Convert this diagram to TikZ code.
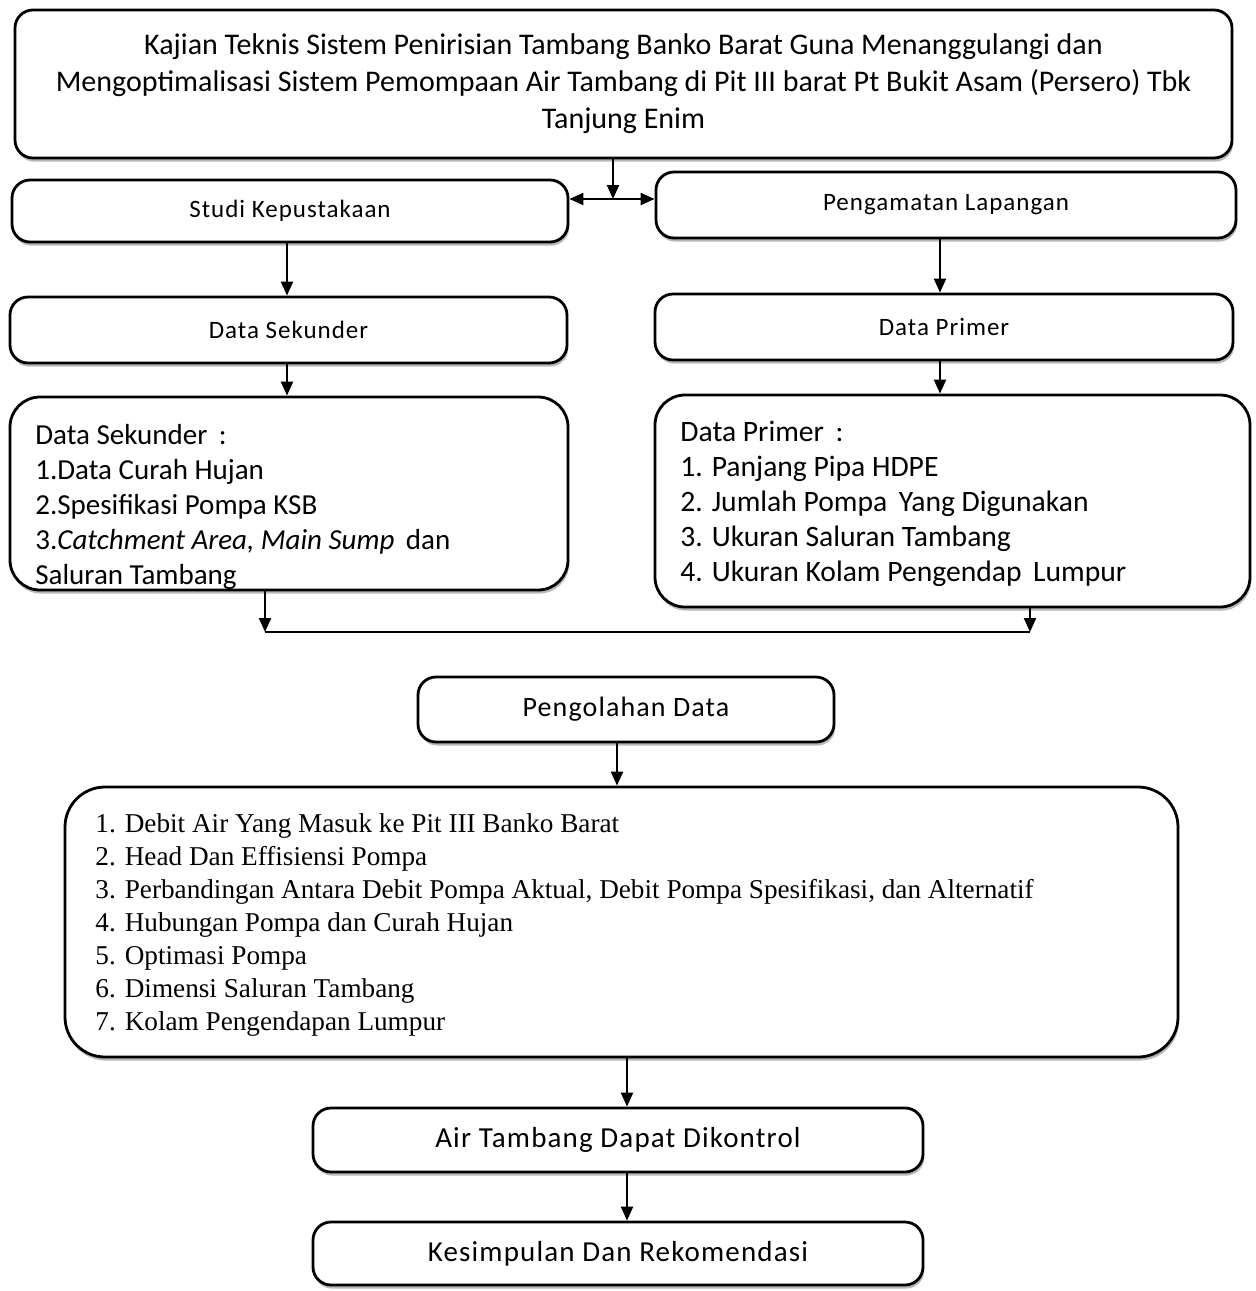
\documentclass[tikz,border=0pt]{standalone}
\usepackage{fontspec}
\setmainfont{Carlito}
\newfontfamily\serifl{Liberation Serif}
\newfontfamily\spaced[LetterSpace=4]{Carlito}
\usetikzlibrary{arrows.meta,shadows}
\begin{document}
\begin{tikzpicture}[x=0.5pt,y=-0.5pt,
  box/.style={draw=black,line width=1.4pt,rounded corners=9pt,fill=white,
     drop shadow={shadow xshift=0.6pt,shadow yshift=-1.8pt,fill=black!55},
     inner sep=0pt,align=center},
  lbox/.style={box,rounded corners=15pt},
  ttl/.style={font=\spaced\fontsize{12.5}{15}\selectfont},
  arr/.style={line width=1.1pt,-{Triangle[length=7pt,width=6pt]}},
  arrb/.style={line width=1.1pt,{Triangle[length=7pt,width=6pt]}-{Triangle[length=7pt,width=6pt]}},
  ln/.style={line width=1.1pt},
  lst/.style={anchor=north west,align=left,inner sep=0pt}]
\useasboundingbox (0,0) rectangle (1255,1291);
\fill[white] (0,0) rectangle (1255,1291);

% boxes
\node[box,minimum width=608.5pt,minimum height=74pt,font=\fontsize{15}{18.5}\selectfont] (top) at (623.5,84)
 {Kajian Teknis Sistem Penirisian Tambang Banko Barat Guna Menanggulangi dan\\
  Mengoptimalisasi Sistem Pemompaan Air Tambang di Pit III barat Pt Bukit Asam (Persero) Tbk\\
  Tanjung Enim};
\node[box,ttl,minimum width=278pt,minimum height=31pt] (studi) at (290,211) {Studi Kepustakaan};
\node[box,ttl,minimum width=290pt,minimum height=33pt] (peng) at (946,205) {Pengamatan Lapangan};
\node[box,ttl,minimum width=278.5pt,minimum height=33pt] (dsek) at (288.5,330) {Data Sekunder};
\node[box,ttl,minimum width=289pt,minimum height=33pt] (dprim) at (944,327) {Data Primer};
\node[lbox,minimum width=279pt,minimum height=96.5pt] (listl) at (289,493.5) {};
\node[lbox,minimum width=297.5pt,minimum height=106pt] (listr) at (952.5,501) {};
\node[box,minimum width=208pt,minimum height=32.5pt,font=\spaced\fontsize{14}{16}\selectfont] (olah) at (626,709.5) {Pengolahan Data};
\node[box,minimum width=305pt,minimum height=135pt,rounded corners=20pt,minimum width=556.5pt] (big) at (621.5,922) {};
\node[box,minimum width=305pt,minimum height=32pt,font=\spaced\fontsize{14.5}{16}\selectfont] (air) at (618,1140) {Air Tambang Dapat Dikontrol};
\node[box,minimum width=305pt,minimum height=31.5pt,font=\spaced\fontsize{14.5}{16}\selectfont] (kes) at (618,1253.5) {Kesimpulan Dan Rekomendasi};

% list texts
\node[lst,font=\fontsize{14.5}{17.5}\selectfont] (tl) at (35,424)
 {Data Sekunder \,:\\
  1.Data Curah Hujan\\
  2.Spesifikasi Pompa KSB\\
  3.\textit{Catchment Area, Main Sump}\, dan\\
  Saluran Tambang};
\node[lst,font=\fontsize{14.8}{17.5}\selectfont] (tr) at (680,421)
 {Data Primer \,:\\
  1. Panjang Pipa HDPE\\
  2. Jumlah Pompa \,Yang Digunakan\\
  3. Ukuran Saluran Tambang\\
  4. Ukuran Kolam Pengendap \,Lumpur};
\node[lst,font=\serifl\fontsize{13.6}{16.5}\selectfont] (tb) at (95,813)
 {1. Debit Air Yang Masuk ke Pit III Banko Barat\\
  2. Head Dan Effisiensi Pompa\\
  3. Perbandingan Antara Debit Pompa Aktual, Debit Pompa Spesifikasi, dan Alternatif\\
  4. Hubungan Pompa dan Curah Hujan\\
  5. Optimasi Pompa\\
  6. Dimensi Saluran Tambang\\
  7. Kolam Pengendapan Lumpur};

% connectors
\coordinate (j) at (613,199);
\draw[arr] (top.south -| j) -- (j);
\draw[arrb] (studi.east |- j) -- (peng.west |- j);
\coordinate (c1) at (287,0);
\coordinate (c2) at (940,0);
\draw[arr] (studi.south -| c1) -- (dsek.north -| c1);
\draw[arr] (peng.south -| c2) -- (dprim.north -| c2);
\draw[arr] (dsek.south -| c1) -- (listl.north -| c1);
\draw[arr] (dprim.south -| c2) -- (listr.north -| c2);
\coordinate (m1) at (265,632);
\coordinate (m2) at (1030,632);
\draw[arr] (listl.south -| m1) -- (m1);
\draw[arr] (listr.south -| m2) -- (m2);
\draw[ln] (m1) -- (m2);
\coordinate (c3) at (617,0);
\coordinate (c4) at (627,0);
\draw[arr] (olah.south -| c3) -- (big.north -| c3);
\draw[arr] (big.south -| c4) -- (air.north -| c4);
\draw[arr] (air.south -| c4) -- (kes.north -| c4);
\end{tikzpicture}
\end{document}
